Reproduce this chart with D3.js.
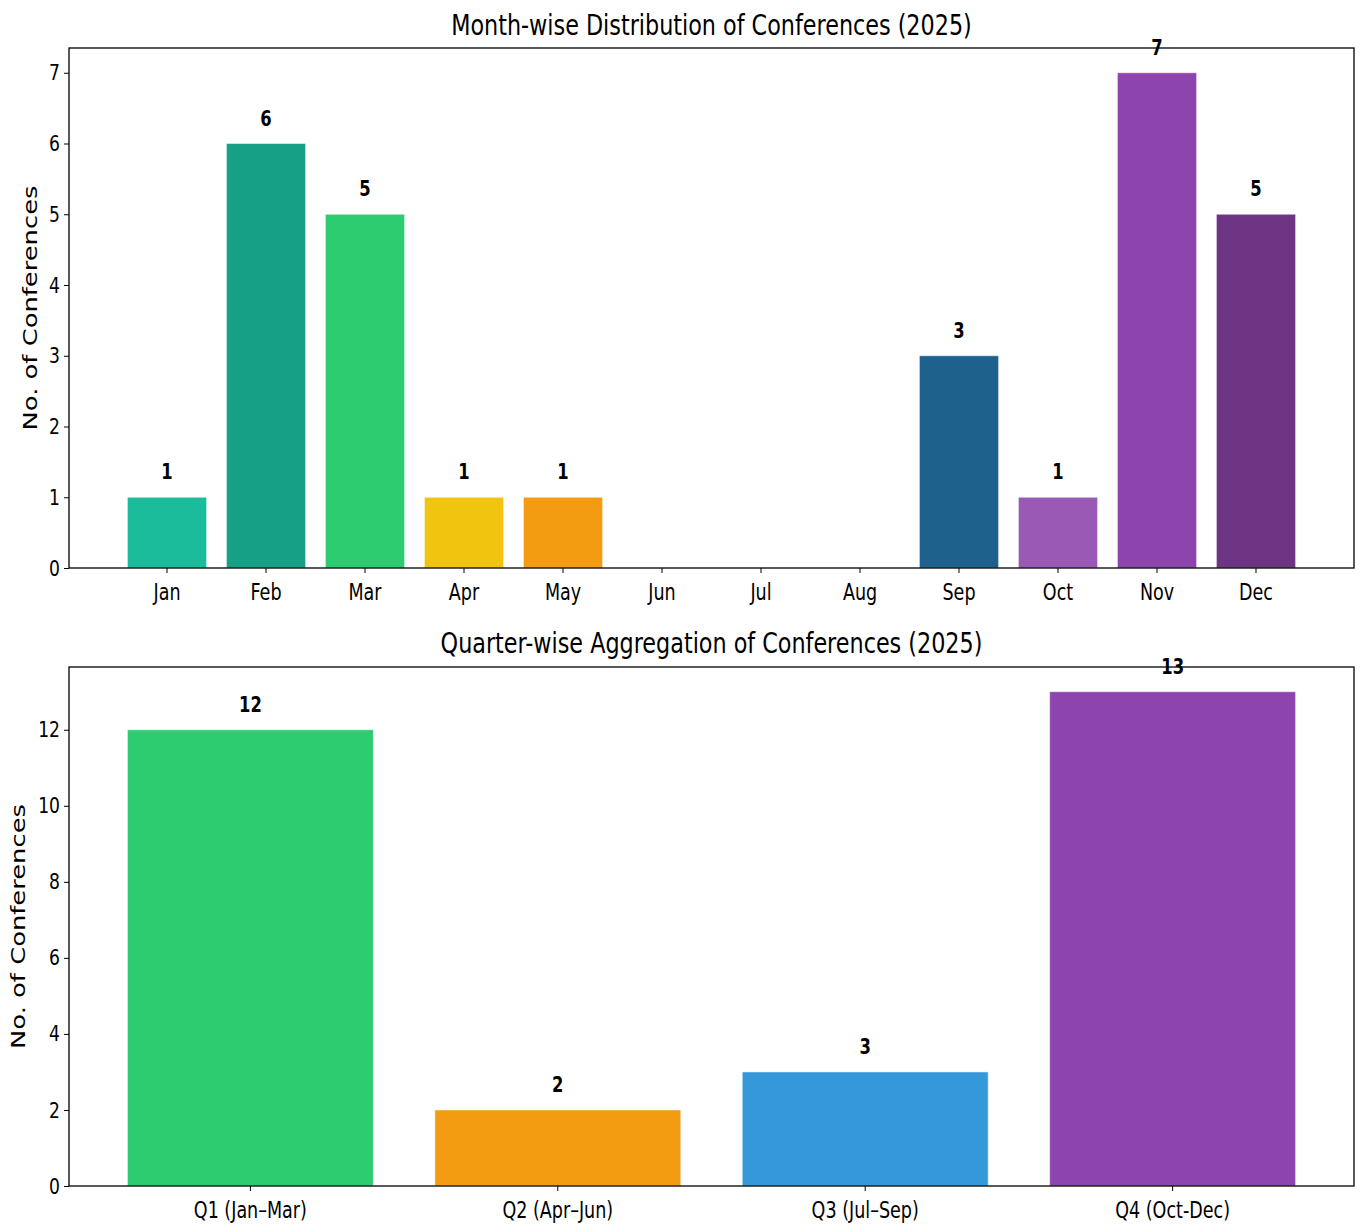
<!DOCTYPE html>
<html><head><meta charset="utf-8">
<script src="https://cdn.jsdelivr.net/npm/d3@7"></script>
<style>body{margin:0;background:#fff}svg{display:block}text{font-family:"DejaVu Sans",sans-serif}</style>
</head><body>
<svg id="c" width="1362" height="1226"></svg>
<script>
const months = ["Jan","Feb","Mar","Apr","May","Jun","Jul","Aug","Sep","Oct","Nov","Dec"];
const monthCounts = [1,6,5,1,1,0,0,0,3,1,7,5];
const monthColors = ["#1abc9c","#16a085","#2ecc71","#f1c40f","#f39c12","#e67e22","#e74c3c","#3498db","#1f618d","#9b59b6","#8e44ad","#6c3483"];
const monthTicks = [0,1,2,3,4,5,6,7];
const quarters = ["Q1 (Jan\u2013Mar)","Q2 (Apr\u2013Jun)","Q3 (Jul\u2013Sep)","Q4 (Oct-Dec)"];
const quarterCounts = [12,2,3,13];
const quarterColors = ["#2ecc71","#f39c12","#3498db","#8e44ad"];
const quarterTicks = [0,2,4,6,8,10,12];

const SX = 0.78;
const svg = d3.select("#c");

function panel(cfg){
  const g = svg.append("g");
  const x = d3.scaleBand().domain(cfg.cats).range([cfg.left, cfg.right]).paddingInner(0.2).paddingOuter(cfg.po);
  const y = d3.scaleLinear().domain([0, cfg.ymax]).range([cfg.bottom, cfg.top]);
  const data = cfg.cats.map((c,i)=>({c, v:cfg.vals[i], col:cfg.colors[i]}));
  // bars
  g.selectAll("rect.bar").data(data).join("rect").attr("class","bar")
    .attr("x",d=>x(d.c)).attr("width",x.bandwidth())
    .attr("y",d=>y(d.v)).attr("height",d=>y(0)-y(d.v))
    .attr("fill",d=>d.col)
    .attr("stroke","#ffffff").attr("stroke-opacity",0.5).attr("stroke-width",1);
  // value labels
  g.selectAll("text.val").data(data.filter(d=>d.v>0)).join("text").attr("class","val")
    .attr("transform",d=>`translate(${x(d.c)+x.bandwidth()/2},${y(d.v)-18}) scale(${SX},1)`)
    .attr("text-anchor","middle").attr("font-size",21).attr("font-weight","bold").attr("fill","#000")
    .text(d=>d.v);
  // axes
  const ax = g.append("g").attr("transform",`translate(0,${cfg.bottom})`)
    .call(d3.axisBottom(x).tickSize(5).tickPadding(11));
  ax.select(".domain").remove();
  ax.selectAll(".tick line").attr("stroke","#000").attr("stroke-width",1);
  ax.selectAll(".tick text").attr("font-size",22.5).attr("fill","#000")
    .attr("transform",`scale(${SX},1)`).attr("font-family","DejaVu Sans, sans-serif");
  const ay = g.append("g").attr("transform",`translate(${cfg.left},0)`)
    .call(d3.axisLeft(y).tickValues(cfg.ticks).tickFormat(d3.format("d")).tickSize(5).tickPadding(5));
  ay.select(".domain").remove();
  ay.selectAll(".tick line").attr("stroke","#000").attr("stroke-width",1);
  ay.selectAll(".tick text").attr("font-size",22).attr("fill","#000")
    .attr("x",-9/SX).attr("transform",`scale(${SX},1)`).attr("font-family","DejaVu Sans, sans-serif");
  // frame
  g.append("rect").attr("x",cfg.left).attr("y",cfg.top).attr("width",cfg.right-cfg.left).attr("height",cfg.bottom-cfg.top)
    .attr("fill","none").attr("stroke","#000").attr("stroke-width",1.3);
  // title
  g.append("text").attr("transform",`translate(${(cfg.left+cfg.right)/2},${cfg.titleY}) scale(${SX},1)`)
    .attr("text-anchor","middle").attr("font-size",28.6).attr("fill","#000").text(cfg.title);
  // y label
  g.append("text").attr("transform",`translate(${cfg.labelX},${(cfg.top+cfg.bottom)/2}) rotate(-90) scale(1,${SX})`)
    .attr("text-anchor","middle").attr("font-size",25.8).attr("fill","#000").text("No. of Conferences");
}

panel({cats:months, vals:monthCounts, colors:monthColors, ticks:monthTicks, ymax:7.35, po:0.59,
  left:69, right:1354, top:48, bottom:568, titleY:35, labelX:37,
  title:"Month-wise Distribution of Conferences (2025)"});
panel({cats:quarters, vals:quarterCounts, colors:quarterColors, ticks:quarterTicks, ymax:13.65, po:0.19,
  left:69, right:1354, top:667, bottom:1186, titleY:653, labelX:25,
  title:"Quarter-wise Aggregation of Conferences (2025)"});
</script>
</body></html>
